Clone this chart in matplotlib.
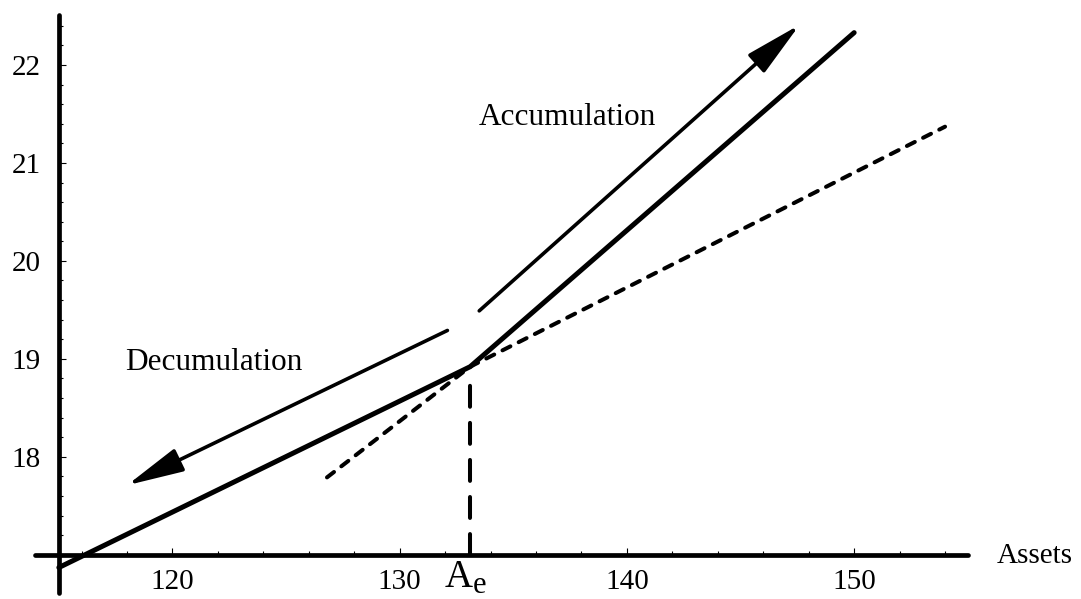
import matplotlib
matplotlib.use("Agg")
import matplotlib.pyplot as plt
from matplotlib.patches import FancyArrowPatch
from matplotlib.ticker import FixedLocator

plt.rcParams["font.family"] = ["Liberation Serif", "DejaVu Serif"]

# values
ae = 133.1
solid_x = [115.0, 133.1, 150.0]
solid_y = [16.87, 18.92, 22.33]
steep_ext_x = [126.8, 133.1]
steep_ext_y = [17.79, 18.92]
flat_ext_x = [133.1, 154.0]
flat_ext_y = [18.92, 21.37]
ae_top = 18.76
decum_start, decum_end = (132.1, 19.29), (118.0, 17.71)
accum_start, accum_end = (133.5, 19.49), (147.6, 22.41)
x_ticks = [120, 130, 140, 150]
x_minor = [116, 118, 122, 124, 126, 128, 132, 134, 136, 138, 142, 144, 146, 148, 152, 154]
y_ticks = [18, 19, 20, 21, 22]
y_minor = [17.2, 17.4, 17.6, 17.8, 18.2, 18.4, 18.6, 18.8, 19.2, 19.4, 19.6, 19.8,
           20.2, 20.4, 20.6, 20.8, 21.2, 21.4, 21.6, 21.8, 22.2, 22.4]


def main():
    fig = plt.figure(figsize=(10.81, 5.99), dpi=100)
    ax = fig.add_axes([35 / 1081, 6 / 599, 933 / 1081, 578 / 599])
    ax.set_xlim(113.95, 155.01)
    ax.set_ylim(16.61, 22.51)

    # Mathematica-like crossing axes
    for side in ("top", "right"):
        ax.spines[side].set_visible(False)
    ax.spines["left"].set_position(("data", 115))
    ax.spines["bottom"].set_position(("data", 17))
    for side in ("left", "bottom"):
        ax.spines[side].set_linewidth(3.4)
        ax.spines[side].set_capstyle("round")

    ax.set_xticks(x_ticks)
    ax.set_yticks(y_ticks)
    ax.xaxis.set_minor_locator(FixedLocator(x_minor))
    ax.yaxis.set_minor_locator(FixedLocator(y_minor))
    ax.tick_params(which="both", direction="in", width=0.8, top=False, right=False)
    ax.tick_params(which="major", length=5, labelsize=21)
    ax.tick_params(which="minor", length=3)
    ax.tick_params(axis="x", which="major", pad=10)
    ax.tick_params(axis="y", which="major", pad=13)

    # kinked function and its dashed continuations
    ax.plot(solid_x, solid_y, color="black", lw=3.6, solid_capstyle="round",
            solid_joinstyle="round")
    ax.plot(steep_ext_x, steep_ext_y, color="black", lw=2.9,
            linestyle=(0, (2.2, 2.3)), dash_capstyle="round")
    ax.plot(flat_ext_x, flat_ext_y, color="black", lw=2.9,
            linestyle=(0, (2.2, 2.3)), dash_capstyle="round")
    ax.plot([ae, ae], [17, ae_top], color="black", lw=2.9,
            linestyle=(0, (5.2, 4.0)), dash_capstyle="round")

    # direction arrows
    for start, end in ((decum_start, decum_end), (accum_start, accum_end)):
        arr = FancyArrowPatch(
            start, end,
            arrowstyle="-|>,head_length=35,head_width=7.5",
            mutation_scale=1, lw=2.6, color="black",
            shrinkA=0, shrinkB=0, capstyle="round", joinstyle="round",
        )
        ax.add_patch(arr)

    ax.text(117.9, 18.89, "Decumulation", fontsize=22.5, ha="left", va="baseline")
    ax.text(133.46, 21.39, "Accumulation", fontsize=22.5, ha="left", va="baseline")
    ax.text(156.29, 16.92, "Assets", fontsize=21, ha="left", va="baseline",
            clip_on=False)

    # A_e label under the axis
    ax.annotate("A", xy=(ae, 17), xytext=(2, -23), textcoords="offset points",
                ha="right", va="baseline", fontsize=28, annotation_clip=False)
    ax.annotate("e", xy=(ae, 17), xytext=(2, -27.5), textcoords="offset points",
                ha="left", va="baseline", fontsize=22, annotation_clip=False)

    fig.savefig("out.png", dpi=100)
    plt.close(fig)


if __name__ == "__main__":
    main()
